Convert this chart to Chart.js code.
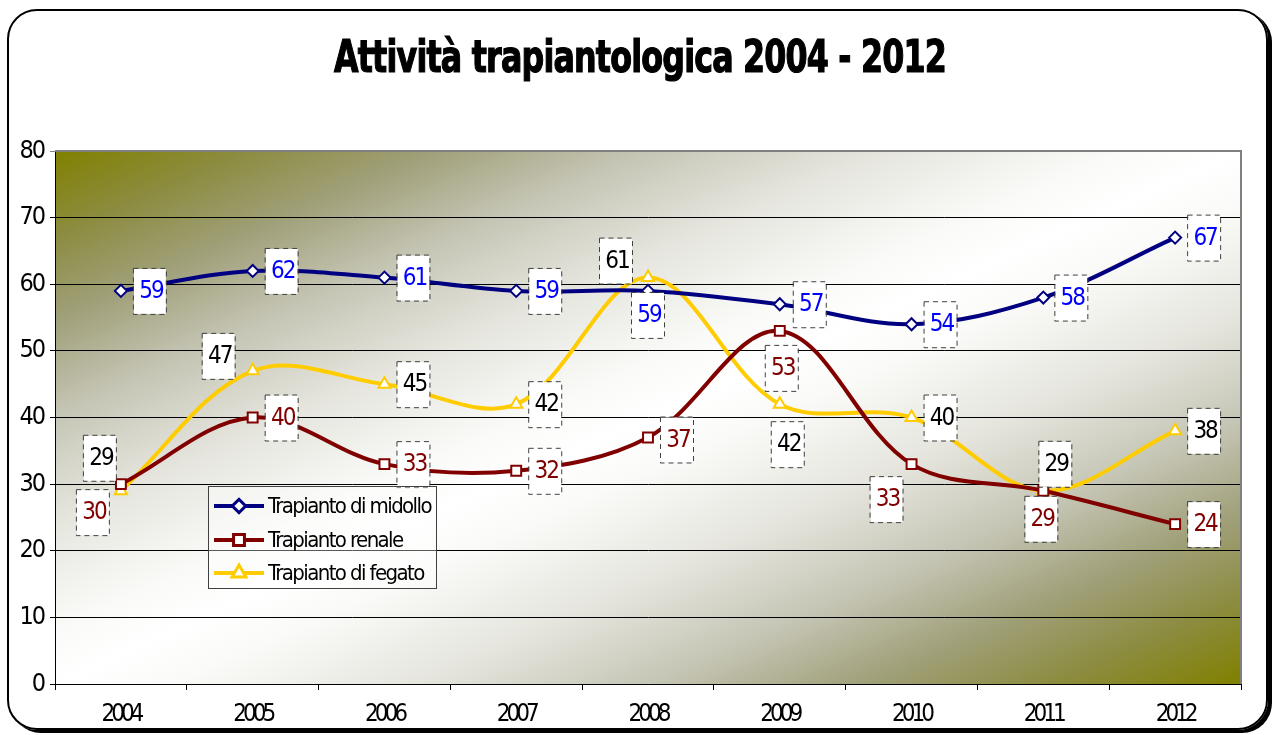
<!DOCTYPE html>
<html>
<head>
<meta charset="utf-8">
<script src="https://cdn.jsdelivr.net/npm/chart.js@4"></script>
<style>
html, body { margin: 0; padding: 0; background: #fff; }
#wrap { position: relative; width: 1280px; height: 735px; overflow: hidden; }
#cornice {
    position: absolute; left: 7px; top: 9px; width: 1261px; height: 721px;
    box-sizing: border-box; border: 2px solid #000; border-radius: 30px;
    box-shadow: 4px 3px 0 #000;
}
canvas { position: absolute; left: 0; top: 0; }
</style>
</head>
<body>
<div id="wrap">
    <div id="cornice"></div>
    <canvas id="grafica" width="1280" height="735"></canvas>
</div>
<script>
// Dati
const anni = ['2004', '2005', '2006', '2007', '2008', '2009', '2010', '2011', '2012'];
const midollo = [59, 62, 61, 59, 59, 57, 54, 58, 67];
const renale = [30, 40, 33, 32, 37, 53, 33, 29, 24];
const fegato = [29, 47, 45, 42, 61, 42, 40, 29, 38];

// Spostamento delle etichette rispetto al punto (come spostate a mano nel foglio)
const posMidollo = [[29, 0], [29, 0], [29, 0], [29, 0], [0, 24], [30, 0], [29, 0], [28, 0], [29, 0]];
const posRenale = [[-28, 28], [29, 0], [29, 0], [29, 0], [29, 2], [2, 37], [-25, 35], [-2, 28], [29, 0]];
const posFegato = [[-21, -33], [-34, -15], [29, 0], [29, 0], [-32, -17], [8, 40], [29, 0], [12, -27], [29, 0]];

const FONT = "'DejaVu Sans Condensed', 'DejaVu Sans', sans-serif";

// Sfumatura dello sfondo: oliva negli angoli, bianco al centro
const sfumatura = [
    [0, '#808000'], [0.08, '#8c8c40'], [0.16, '#a0a07a'], [0.25, '#c6c6b6'], [0.35, '#e6e6df'], [0.45, '#fafaf8'],
    [0.5, '#ffffff'],
    [0.55, '#fafaf8'], [0.65, '#e6e6df'], [0.75, '#c6c6b6'], [0.84, '#a0a07a'], [0.92, '#8c8c40'], [1, '#808000']
];

const sfondo = {
    id: 'sfondo',
    beforeDraw(chart) {
        const { ctx, chartArea: a } = chart;
        const w = a.right - a.left, h = a.bottom - a.top;
        const cx = (a.left + a.right) / 2, cy = (a.top + a.bottom) / 2;
        const k = w * h / (w * w + h * h);
        const g = ctx.createLinearGradient(cx - h * k, cy - w * k, cx + h * k, cy + w * k);
        sfumatura.forEach(([s, c]) => g.addColorStop(s, c));
        ctx.save();
        ctx.fillStyle = g;
        ctx.fillRect(a.left, a.top, w, h);

        // titolo
        const titolo = 'Attività trapiantologica 2004 - 2012';
        ctx.font = 'bold 44px ' + FONT;
        ctx.letterSpacing = '-1px';
        const tw = ctx.measureText(titolo).width;
        ctx.translate(640, 61);
        ctx.scale(612 / tw, 1);
        ctx.fillStyle = '#000';
        ctx.strokeStyle = '#000';
        ctx.lineWidth = 1.2;
        ctx.textAlign = 'center';
        ctx.textBaseline = 'middle';
        ctx.fillText(titolo, 0, 0);
        ctx.strokeText(titolo, 0, 0);
        ctx.restore();

        ctx.letterSpacing = '-2px';
    },
    afterDatasetsDraw(chart) {
        const { ctx, chartArea: a } = chart;
        ctx.save();
        // bordo dell'area del grafico (alto e destra)
        ctx.strokeStyle = '#808080';
        ctx.lineWidth = 2;
        ctx.beginPath();
        ctx.moveTo(a.left, a.top);
        ctx.lineTo(a.right, a.top);
        ctx.lineTo(a.right, a.bottom);
        ctx.stroke();

        // etichette dei valori
        chart.data.datasets.forEach((ds, d) => {
            const meta = chart.getDatasetMeta(d);
            meta.data.forEach((pt, i) => {
                const [dx, dy] = ds.posizioni[i];
                const x = pt.x + dx, y = pt.y + dy;
                ctx.setLineDash([5, 4]);
                ctx.lineWidth = 1;
                ctx.strokeStyle = '#404040';
                ctx.fillStyle = '#fff';
                ctx.fillRect(x - 16, y - 22, 32, 45);
                ctx.strokeRect(x - 16.5, y - 22.5, 33, 46);
                ctx.setLineDash([]);
                ctx.font = '24px ' + FONT;
                ctx.letterSpacing = '-2px';
                ctx.fillStyle = ds.coloreEtichetta;
                ctx.textAlign = 'center';
                ctx.textBaseline = 'middle';
                ctx.fillText(String(ds.data[i]), x + 1, y + 1);
            });
        });
        ctx.restore();
        // le etichette dell'asse x sono più strette
        ctx.letterSpacing = '-4px';
    },
    afterDraw(chart) {
        const { ctx } = chart;
        ctx.save();
        ctx.fillStyle = 'rgba(255,255,255,0.35)';
        ctx.fillRect(208, 486, 228, 102);
        ctx.strokeStyle = '#404040';
        ctx.lineWidth = 1;
        ctx.strokeRect(208.5, 486.5, 228, 102);
        const righe = [506, 540, 573];
        chart.data.datasets.forEach((ds, d) => {
            const y = righe[d];
            ctx.strokeStyle = ds.borderColor;
            ctx.lineWidth = 4;
            ctx.beginPath();
            ctx.moveTo(214, y);
            ctx.lineTo(264, y);
            ctx.stroke();
            Chart.helpers.drawPoint(ctx, {
                pointStyle: ds.pointStyle,
                radius: ds.pointRadius,
                borderWidth: 2
            }, 239, y);
            ctx.fillStyle = '#fff';
            ctx.strokeStyle = ds.borderColor;
            ctx.lineWidth = 2;
            ctx.fill();
            ctx.stroke();
            ctx.font = '22px ' + FONT;
            ctx.letterSpacing = '-1.6px';
            ctx.fillStyle = '#000';
            ctx.textAlign = 'left';
            ctx.textBaseline = 'middle';
            ctx.fillText(ds.label, 268, y + 1);
        });
        ctx.restore();
    }
};

const ctx = document.getElementById('grafica').getContext('2d');

new Chart(ctx, {
    type: 'line',
    data: {
        labels: anni,
        datasets: [
            {
                label: 'Trapianto di midollo',
                data: midollo,
                borderColor: '#000080',
                pointStyle: 'rectRot',
                pointRadius: 6,
                coloreEtichetta: '#0000ff',
                posizioni: posMidollo
            },
            {
                label: 'Trapianto renale',
                data: renale,
                borderColor: '#800000',
                pointStyle: 'rect',
                pointRadius: 7,
                coloreEtichetta: '#800000',
                posizioni: posRenale
            },
            {
                label: 'Trapianto di fegato',
                data: fegato,
                borderColor: '#ffcc00',
                pointStyle: 'triangle',
                pointRadius: 7,
                coloreEtichetta: '#000000',
                posizioni: posFegato
            }
        ].map(ds => Object.assign(ds, {
            borderWidth: 4,
            tension: 0.35,
            pointBackgroundColor: '#ffffff',
            pointBorderColor: ds.borderColor,
            pointBorderWidth: 2,
            fill: false
        }))
    },
    options: {
        responsive: false,
        animation: false,
        layout: { padding: { top: 151, right: 39, left: 0, bottom: 0 } },
        plugins: {
            legend: { display: false },
            title: { display: false },
            tooltip: { enabled: false }
        },
        scales: {
            x: {
                offset: true,
                grid: { offset: true, drawOnChartArea: false, drawTicks: true, tickLength: 6, color: '#000' },
                border: { color: '#000', width: 1 },
                ticks: { font: { family: FONT, size: 24 }, color: '#000', padding: 10, maxRotation: 0, z: 1 },
                afterFit(s) { s.height = 51; }
            },
            y: {
                min: 0,
                max: 80,
                ticks: { stepSize: 10, font: { family: FONT, size: 25 }, color: '#000', padding: 6 },
                grid: {
                    color: (c) => c.tick && c.tick.value === 80 ? '#808080' : '#000',
                    tickLength: 5
                },
                border: { color: '#000', width: 1 },
                afterFit(s) { s.width = 55; }
            }
        }
    },
    plugins: [sfondo]
});
</script>
</body>
</html>
